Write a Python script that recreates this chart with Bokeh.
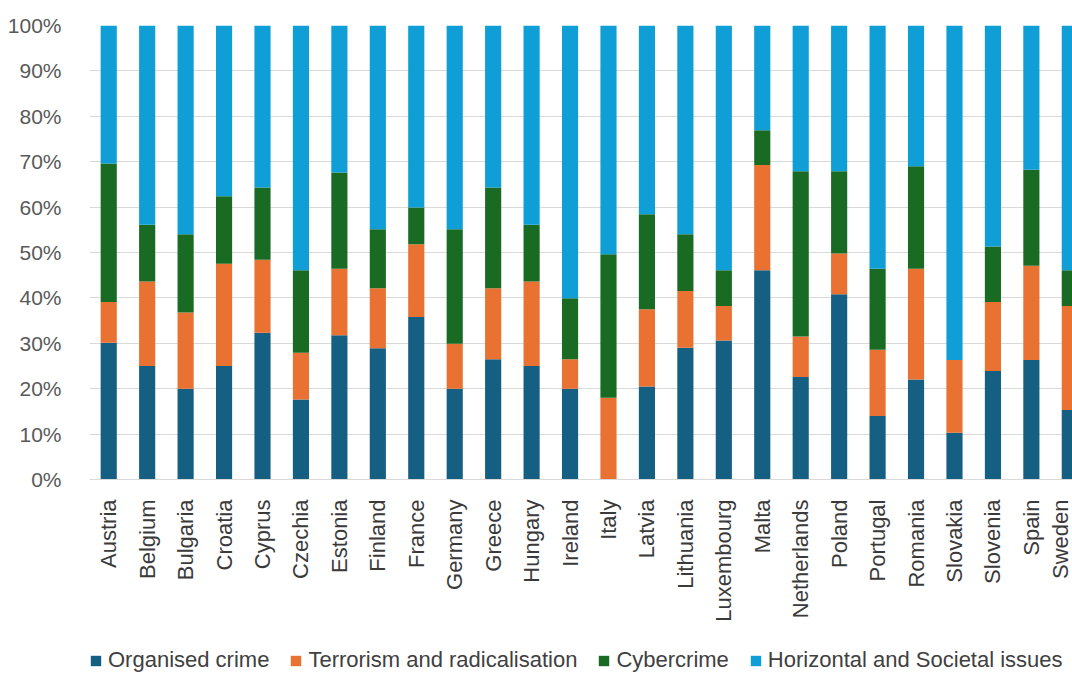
import math
from bokeh.plotting import figure
from bokeh.layouts import column
from bokeh.models import (ColumnDataSource, Range1d, FixedTicker, PrintfTickFormatter,
                          Legend, LegendItem)
from bokeh.embed import file_html
from bokeh.resources import INLINE

countries = ["Austria", "Belgium", "Bulgaria", "Croatia", "Cyprus", "Czechia", "Estonia",
             "Finland", "France", "Germany", "Greece", "Hungary", "Ireland", "Italy",
             "Latvia", "Lithuania", "Luxembourg", "Malta", "Netherlands", "Poland",
             "Portugal", "Romania", "Slovakia", "Slovenia", "Spain", "Sweden"]

organised_crime = [30.1, 25.0, 20.0, 25.0, 32.3, 17.6, 31.8, 28.9, 35.8, 20.0, 26.5, 25.0, 20.0,
                   0.0, 20.5, 29.0, 30.6, 46.1, 22.6, 40.8, 14.0, 22.0, 10.3, 23.9, 26.3, 15.3]
terrorism = [9.0, 18.6, 16.8, 22.5, 16.1, 10.3, 14.6, 13.2, 16.0, 9.9, 15.6, 18.6, 6.5,
             18.0, 17.0, 12.5, 7.6, 23.2, 8.9, 9.0, 14.6, 24.4, 16.0, 15.2, 20.8, 22.9]
cybercrime = [30.5, 12.5, 17.2, 14.9, 15.9, 18.2, 21.2, 13.0, 8.1, 25.2, 22.2, 12.5, 13.4,
              31.6, 20.9, 12.5, 7.9, 7.6, 36.4, 18.1, 17.8, 22.6, 0.0, 12.2, 21.1, 7.9]
horizontal = [30.4, 43.9, 46.0, 37.6, 35.7, 53.9, 32.4, 44.9, 40.1, 44.9, 35.7, 43.9, 60.1,
              50.4, 41.6, 46.0, 53.9, 23.1, 32.1, 32.1, 53.6, 31.0, 73.7, 48.7, 31.8, 53.9]

series_keys = ["oc", "tr", "cy", "hz"]
series_labels = ["Organised crime", "Terrorism and radicalisation", "Cybercrime",
                 "Horizontal and Societal issues"]
colors = ["#156082", "#E97132", "#196B24", "#0F9ED5"]
y_ticks = list(range(0, 101, 10))

xpos = [i + 0.5 for i in range(len(countries))]
source = ColumnDataSource(dict(x=xpos, oc=organised_crime, tr=terrorism,
                               cy=cybercrime, hz=horizontal))

MAIN_H = 632
LEG_H = 677 - MAIN_H

p = figure(width=1072, height=MAIN_H, output_backend="svg", toolbar_location=None,
           x_range=Range1d(0, 25.57), y_range=Range1d(0, 100))
p.min_border_left = 89
p.min_border_right = 0
p.min_border_top = 25
p.min_border_bottom = MAIN_H - 479
p.outline_line_color = None
p.background_fill_color = "white"
p.border_fill_color = "white"

p.vbar_stack(series_keys, x="x", width=0.42, color=colors, source=source, line_color=None)

# y axis
p.yaxis.ticker = FixedTicker(ticks=y_ticks)
p.yaxis.formatter = PrintfTickFormatter(format="%d%%")
p.yaxis.axis_line_color = None
p.yaxis.major_tick_line_color = None
p.yaxis.minor_tick_line_color = None
p.yaxis.major_label_text_font = "Liberation Sans"
p.yaxis.major_label_text_font_size = "21px"
p.yaxis.major_label_text_color = "#595959"
p.yaxis.major_label_standoff = 22
p.ygrid.grid_line_color = "#d9d9d9"
p.ygrid.grid_line_width = 1
p.ygrid.ticker = FixedTicker(ticks=y_ticks)
p.xgrid.grid_line_color = None

# x axis
p.xaxis.ticker = FixedTicker(ticks=xpos)
p.xaxis.major_label_overrides = {x: c for x, c in zip(xpos, countries)}
p.xaxis.major_label_orientation = math.pi / 2
p.xaxis.axis_line_color = "#d9d9d9"
p.xaxis.major_tick_line_color = None
p.xaxis.minor_tick_line_color = None
p.xaxis.major_label_text_font = "Liberation Sans"
p.xaxis.major_label_text_font_size = "22px"
p.xaxis.major_label_text_color = "#3a3a3a"
p.xaxis.major_label_standoff = 14

# legend strip (separate small figure so the legend is not clipped by the chart frame)
lf = figure(width=1072, height=LEG_H, output_backend="svg", toolbar_location=None,
            x_range=Range1d(0, 1), y_range=Range1d(0, 1),
            x_axis_location=None, y_axis_location=None)
lf.min_border_left = 0
lf.min_border_right = 0
lf.min_border_top = 0
lf.min_border_bottom = 0
lf.outline_line_color = None
lf.grid.visible = False
lf.background_fill_color = "white"
lf.border_fill_color = "white"

# zero-height swatch renderers (draw nothing in the strip; only feed the legend icons)
swatch = ColumnDataSource(dict(x=[0.5], top=[0.0], bottom=[0.0]))
items = []
for lab, col in zip(series_labels, colors):
    r = lf.vbar(x="x", top="top", bottom="bottom", width=0.0, source=swatch,
                fill_color=col, line_color=None)
    items.append(LegendItem(label=lab, renderers=[r]))

# the strip's frame is aligned with the chart frame (left edge at 89 px)
legend = Legend(items=items, orientation="horizontal", location=(0, 4))
legend.label_text_font = "Liberation Sans"
legend.label_text_font_size = "22px"
legend.label_text_color = "#404040"
legend.glyph_width = 13
legend.glyph_height = 13
legend.label_standoff = 6
legend.spacing = 20
legend.padding = 0
legend.margin = 0
legend.border_line_color = None
legend.background_fill_alpha = 0
lf.add_layout(legend, "center")

layout = column(p, lf, spacing=0)
open("out.html", "w").write(file_html(layout, INLINE))
